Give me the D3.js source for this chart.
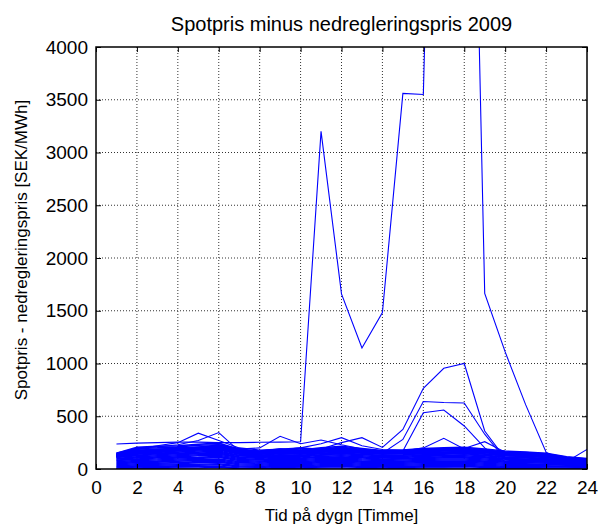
<!DOCTYPE html>
<html>
<head>
<meta charset="utf-8">
<script src="https://cdn.jsdelivr.net/npm/d3@7"></script>
<style>
  body { margin: 0; background: #fff; }
  text { font-family: "Liberation Sans", Arial, sans-serif; fill: #000; }
</style>
</head>
<body>
<svg width="600" height="527"></svg>
<script>
// hours of the day
const hours = d3.range(1, 25);

const xTicks = [0, 2, 4, 6, 8, 10, 12, 14, 16, 18, 20, 22, 24];
const yTicks = [0, 500, 1000, 1500, 2000, 2500, 3000, 3500, 4000];

// the dense band of ordinary days (SEK/MWh)
const day01 = [150,205,215,220,235,245,185,170,190,180,200,215,195,175,180,195,200,205,190,170,160,150,115,100];
const day02 = [150,195,200,210,225,230,175,165,185,175,190,205,185,170,175,185,190,195,180,160,155,145,110,95];
const day03 = [145,185,150,205,200,230,195,160,175,200,185,195,180,165,170,180,185,190,175,155,150,140,105,90];
const day04 = [140,170,185,195,205,215,165,155,170,165,175,190,175,160,165,175,180,185,170,150,145,135,100,85];
const day05 = [135,180,175,185,195,210,160,150,165,160,170,180,170,155,160,170,175,180,165,145,140,130,95,80];
const day06 = [130,150,170,180,190,200,150,145,155,150,165,175,160,150,155,165,170,170,160,140,135,125,90,75];
const day07 = [125,145,160,170,180,190,145,140,150,145,160,165,155,145,150,160,160,165,155,135,130,120,85,70];
const day08 = [120,140,150,160,170,180,140,130,145,140,150,160,150,140,145,150,155,160,145,130,125,115,80,70];
const day09 = [115,130,145,150,160,170,130,125,135,130,145,150,140,130,135,145,150,150,140,125,120,110,80,65];
const day10 = [110,125,135,145,150,160,125,115,130,125,135,145,135,125,130,135,140,145,130,115,110,100,75,60];
const day11 = [100,115,125,135,145,150,115,110,120,115,130,135,125,115,120,130,130,135,125,110,105,95,70,60];
const day12 = [95,105,115,125,135,140,110,100,115,105,120,125,115,105,110,120,125,125,115,100,95,90,65,55];
const day13 = [85,95,105,115,125,130,100,90,105,100,110,115,105,95,100,110,115,115,105,95,90,80,60,50];
const day14 = [80,90,95,105,110,120,90,85,95,90,100,105,95,90,95,100,105,105,95,85,80,75,55,45];
const day15 = [70,80,85,95,100,110,80,75,85,80,90,95,85,80,85,90,95,95,85,75,70,65,50,40];
const day16 = [60,70,75,85,90,95,70,65,75,70,80,85,75,70,75,80,85,85,75,65,60,55,45,35];
const day17 = [50,60,65,75,80,85,60,55,65,60,70,75,65,60,65,70,75,75,65,55,50,45,40,30];
const day18 = [40,50,55,60,70,75,50,45,55,50,60,65,55,50,55,60,65,65,55,45,40,40,35,25];
const day19 = [30,40,45,50,60,65,40,35,45,40,50,55,45,40,45,50,55,55,45,35,30,30,25,20];
const day20 = [20,30,35,40,45,50,30,25,35,30,40,45,35,30,35,40,45,45,35,25,20,20,20,15];
const day21 = [10,20,25,30,35,40,20,15,25,20,30,35,25,20,25,30,35,35,25,15,15,10,10,10];
const day22 = [5,10,15,20,25,25,10,5,15,10,20,25,15,10,15,20,20,25,15,10,5,5,5,5];
const day23 = [0,5,5,10,10,15,5,0,5,5,10,10,5,5,5,10,10,10,5,5,0,0,0,0];

// days that stick out of the band
const dayPeak5 = [140,190,220,250,340,270,200,180,190,180,190,200,180,170,170,180,180,185,170,150,140,130,100,85];
const dayPeak6 = [135,200,210,230,270,345,170,160,180,170,185,195,180,165,170,175,180,185,170,150,140,130,95,80];
const dayPeak9 = [130,180,190,200,210,220,190,200,310,240,275,230,190,170,175,185,190,190,175,155,145,135,100,85];
const dayPeak12 = [140,175,185,195,205,215,180,170,190,200,240,297,220,185,180,190,195,195,180,160,150,140,105,90];
const dayPeak17 = [120,160,175,185,195,205,165,150,170,165,180,190,175,165,170,200,291,190,175,150,140,130,95,80];
const dayPeak19 = [125,165,180,190,200,205,170,155,175,170,185,195,180,170,175,185,190,195,259,160,150,140,100,85];
const dayEnd24 = [110,150,160,170,180,190,150,140,160,150,165,175,160,150,155,165,170,175,160,150,150,145,70,186];
const day1000 = [130,170,185,190,200,210,170,160,175,170,190,250,297,205,375,765,955,1000,360,100,90,80,60,50];
const day640 = [120,160,170,180,190,200,160,150,165,160,175,185,170,150,280,640,630,625,330,90,85,75,55,45];
const day560 = [115,155,165,175,185,195,155,145,160,155,170,180,165,150,170,534,559,408,200,70,70,65,50,40];
const dayExtreme = [237,245,250,255,255,250,250,253,255,259,3200,1660,1147,1482,3560,3550,11000,10500,1665,1110,610,160,60,40];

const band = [day01,day02,day03,day04,day05,day06,day07,day08,day09,day10,day11,day12,
  day13,day14,day15,day16,day17,day18,day19,day20,day21,day22,day23];
const outliers = [dayPeak5,dayPeak6,dayPeak9,dayPeak12,dayPeak17,dayPeak19,dayEnd24,day1000,day640,day560,dayExtreme];

const svg = d3.select('svg');
const margin = {top: 47, right: 13, bottom: 58, left: 96};
const width = +svg.attr('width') - margin.left - margin.right;
const height = +svg.attr('height') - margin.top - margin.bottom;

const x = d3.scaleLinear().domain([0, 24]).range([0, width]);
const y = d3.scaleLinear().domain([0, 4000]).range([height, 0]);

const g = svg.append('g').attr('transform', `translate(${margin.left},${margin.top})`);

svg.append('defs').append('clipPath').attr('id', 'plot')
  .append('rect').attr('width', width).attr('height', height);

// dotted grid
g.append('g').selectAll('line').data(xTicks.slice(1, -1)).enter().append('line')
  .attr('x1', d => x(d)).attr('x2', d => x(d)).attr('y1', 0).attr('y2', height)
  .attr('stroke', '#333').attr('stroke-dasharray', '1,2');
g.append('g').selectAll('line').data(yTicks.slice(1, -1)).enter().append('line')
  .attr('y1', d => y(d)).attr('y2', d => y(d)).attr('x1', 0).attr('x2', width)
  .attr('stroke', '#333').attr('stroke-dasharray', '1,2');

const line = d3.line().x((d, i) => x(hours[i])).y(d => y(d));

const plot = g.append('g').attr('clip-path', 'url(#plot)');
plot.selectAll('path.band').data(band).enter().append('path')
  .attr('class', 'band')
  .attr('d', line)
  .attr('fill', 'none')
  .attr('stroke', '#0000ff')
  .attr('stroke-width', 1.6);
plot.selectAll('path.out').data(outliers).enter().append('path')
  .attr('class', 'out')
  .attr('d', line)
  .attr('fill', 'none')
  .attr('stroke', '#0000ff')
  .attr('stroke-width', 1.1);

// axes with inward ticks on all four sides
const fmt = d3.format('d');
const axes = [
  [d3.axisBottom(x).tickValues(xTicks).tickSizeInner(-5).tickSizeOuter(0).tickPadding(12), `translate(0,${height})`, true],
  [d3.axisTop(x).tickValues(xTicks).tickSizeInner(-5).tickSizeOuter(0), 'translate(0,0)', false],
  [d3.axisLeft(y).tickValues(yTicks).tickFormat(fmt).tickSizeInner(-5).tickSizeOuter(0).tickPadding(8), 'translate(0,0)', true],
  [d3.axisRight(y).tickValues(yTicks).tickSizeInner(-5).tickSizeOuter(0), `translate(${width},0)`, false]
];
axes.forEach(([ax, tr, labels]) => {
  const a = g.append('g').attr('transform', tr).call(ax);
  a.select('.domain').remove();
  a.selectAll('line').attr('stroke', '#000');
  a.selectAll('text').style('font-size', '19px').attr('fill', '#000');
  if (!labels) a.selectAll('text').remove();
});

g.append('rect').attr('width', width).attr('height', height)
  .attr('fill', 'none').attr('stroke', '#000').attr('stroke-width', 1.5);

svg.append('text')
  .attr('x', margin.left + width / 2).attr('y', 31)
  .attr('text-anchor', 'middle').style('font-size', '20px')
  .text('Spotpris minus nedregleringspris 2009');

svg.append('text')
  .attr('x', margin.left + width / 2).attr('y', 521)
  .attr('text-anchor', 'middle').style('font-size', '17px')
  .text('Tid på dygn [Timme]');

svg.append('text')
  .attr('transform', `translate(27,250) rotate(-90)`)
  .attr('text-anchor', 'middle').style('font-size', '17px')
  .text('Spotpris - nedregleringspris [SEK/MWh]');
</script>
</body>
</html>
